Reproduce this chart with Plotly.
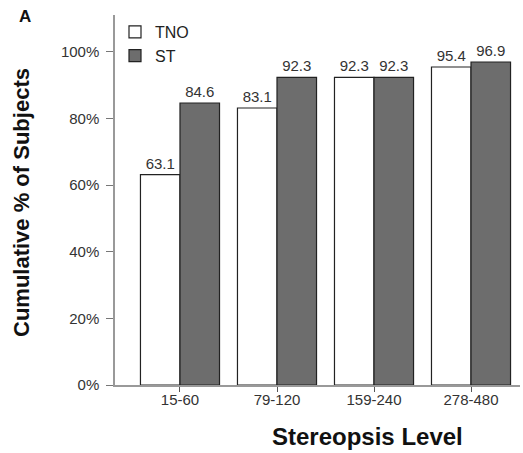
import plotly.graph_objects as go

categories = ["15-60", "79-120", "159-240", "278-480"]
tno = [63.1, 83.1, 92.3, 95.4]
st = [84.6, 92.3, 92.3, 96.9]
y_ticks = [0, 20, 40, 60, 80, 100]
y_tick_labels = ["0%", "20%", "40%", "60%", "80%", "100%"]

W, H = 523, 453
L, R, T, B = 115, 3, 15, 68
pw = W - L - R
ph = H - T - B

fig = go.Figure()
fig.add_trace(go.Bar(
    x=categories, y=tno, name="TNO",
    marker=dict(color="white", line=dict(color="#222", width=1.2)),
    text=[f"{v:.1f}" for v in tno], textposition="outside",
    textfont=dict(size=15, color="#333", family="Arial, Liberation Sans"),
    cliponaxis=False,
))
fig.add_trace(go.Bar(
    x=categories, y=st, name="ST",
    marker=dict(color="#6d6d6d", line=dict(color="#222", width=1.2)),
    text=[f"{v:.1f}" for v in st], textposition="outside",
    textfont=dict(size=15, color="#333", family="Arial, Liberation Sans"),
    cliponaxis=False,
))

fig.update_layout(
    width=W, height=H,
    margin=dict(l=L, r=R, t=T, b=B, pad=0),
    paper_bgcolor="white", plot_bgcolor="white",
    barmode="group", bargap=0.185, bargroupgap=0,
    font=dict(family="Arial, Liberation Sans", color="#333"),
    showlegend=True,
    legend=dict(x=0.0, y=1.0, xanchor="left", yanchor="top",
                font=dict(size=16, color="#222"), bgcolor="rgba(0,0,0,0)",
                tracegroupgap=0, itemwidth=30),
    xaxis=dict(
        type="category", range=[-0.67, 3.505],
        showline=True, linecolor="#999", linewidth=1.5,
        ticks="outside", ticklen=5, tickcolor="#555", tickwidth=1,
        tickfont=dict(size=15, color="#333"), ticklabelstandoff=-5,
        showgrid=False, zeroline=False,
    ),
    yaxis=dict(
        range=[0, 111],
        tickvals=y_ticks, ticktext=y_tick_labels,
        showline=True, linecolor="#999", linewidth=1.5,
        ticks="outside", ticklen=7, tickcolor="#777", tickwidth=1.2,
        tickfont=dict(size=15, color="#333"), ticklabelstandoff=4,
        showgrid=False, zeroline=False,
    ),
    annotations=[
        dict(text="<b>Cumulative % of Subjects</b>", xref="paper", yref="paper",
             x=(22 - L) / pw, y=(H - B - 203) / ph, textangle=-90,
             showarrow=False, font=dict(size=22, color="#111"),
             xanchor="center", yanchor="middle"),
        dict(text="<b>Stereopsis Level</b>", xref="paper", yref="paper",
             x=(367 - L) / pw, y=-(436 - (H - B)) / ph,
             showarrow=False, font=dict(size=24, color="#111"),
             xanchor="center", yanchor="middle"),
        dict(text="<b>A</b>", xref="paper", yref="paper",
             x=(25 - L) / pw, y=(H - B - 17) / ph,
             showarrow=False, font=dict(size=17, color="#111"),
             xanchor="center", yanchor="middle"),
    ],
)

fig.write_html("out.html")
